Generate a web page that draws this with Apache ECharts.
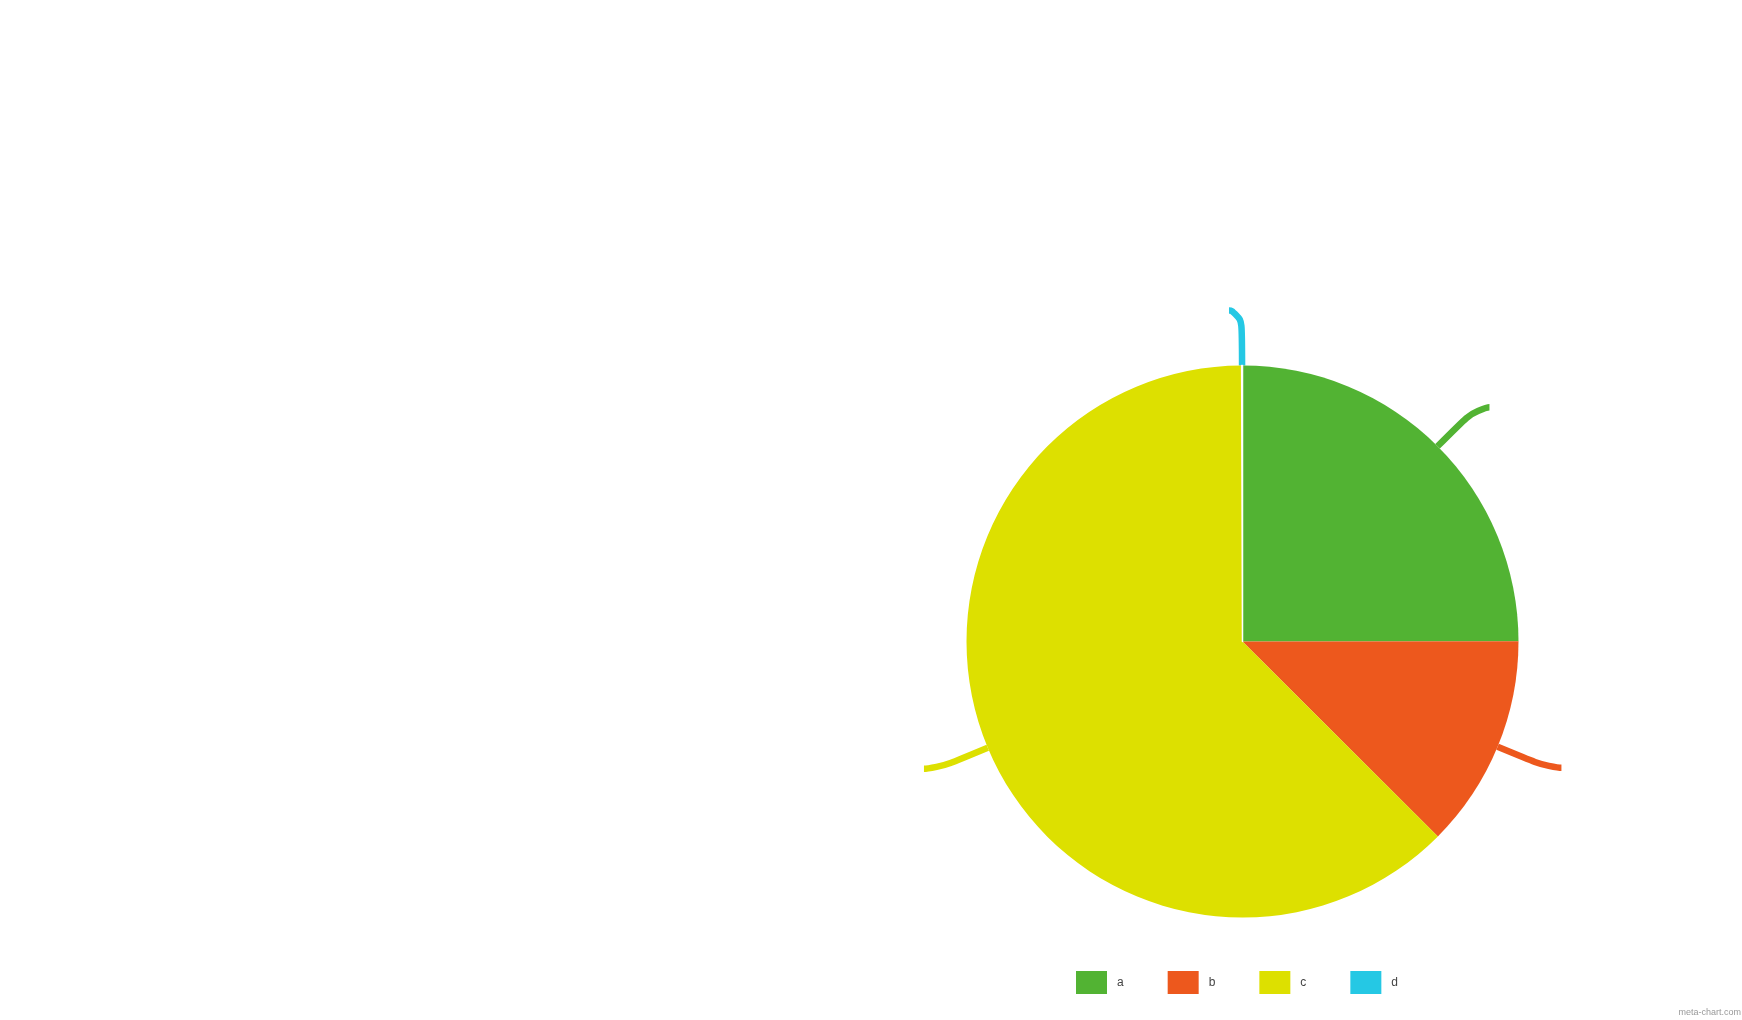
<!DOCTYPE html>
<html>
<head>
<meta charset="utf-8">
<script src="https://cdn.jsdelivr.net/npm/echarts@6/dist/echarts.min.js"></script>
<style>
html,body{margin:0;padding:0;background:#fff;}
#main{width:1742px;height:1020px;}
</style>
</head>
<body>
<div id="main"></div>
<script>
var categories = ['a', 'b', 'c', 'd'];
var values = [2, 1, 5, 0.004];
var colors = ['#52B333', '#ED581D', '#DDE000', '#25C8E4'];

var chart = echarts.init(document.getElementById('main'), null, {renderer: 'canvas'});
var data = categories.map(function (name, i) {
  var item = {name: name, value: values[i], itemStyle: {color: colors[i]}};
  if (name === 'd') {
    item.itemStyle.borderColor = '#ffffff';
    item.itemStyle.borderWidth = 1.5;
  }
  return item;
});

chart.setOption({
  animation: false,
  backgroundColor: '#ffffff',
  legend: {
    data: categories,
    left: 1076,
    top: 971,
    padding: 0,
    orient: 'horizontal',
    itemWidth: 31,
    itemHeight: 23,
    itemGap: 44,
    icon: 'rect',
    selectedMode: false,
    itemStyle: {borderWidth: 0},
    textStyle: {
      color: '#444',
      fontSize: 12,
      fontFamily: 'Arial, Liberation Sans, sans-serif',
      padding: [0, 0, 0, 5]
    }
  },
  graphic: [{
    type: 'text',
    right: 1,
    top: 1008,
    style: {
      text: 'meta-chart.com',
      fill: '#999',
      fontSize: 9,
      fontFamily: 'Arial, Liberation Sans, sans-serif'
    }
  }],
  series: [{
    type: 'pie',
    center: [1242.5, 641.5],
    radius: 276,
    startAngle: 90,
    clockwise: true,
    avoidLabelOverlap: false,
    data: data,
    label: {
      show: true,
      position: 'outside',
      formatter: ' ',
      fontSize: 1
    },
    labelLine: {
      show: true,
      length: 55,
      length2: 13,
      smooth: 0.8,
      lineStyle: {width: 6.5}
    },
    emphasis: {disabled: true}
  }]
});
</script>
</body>
</html>
